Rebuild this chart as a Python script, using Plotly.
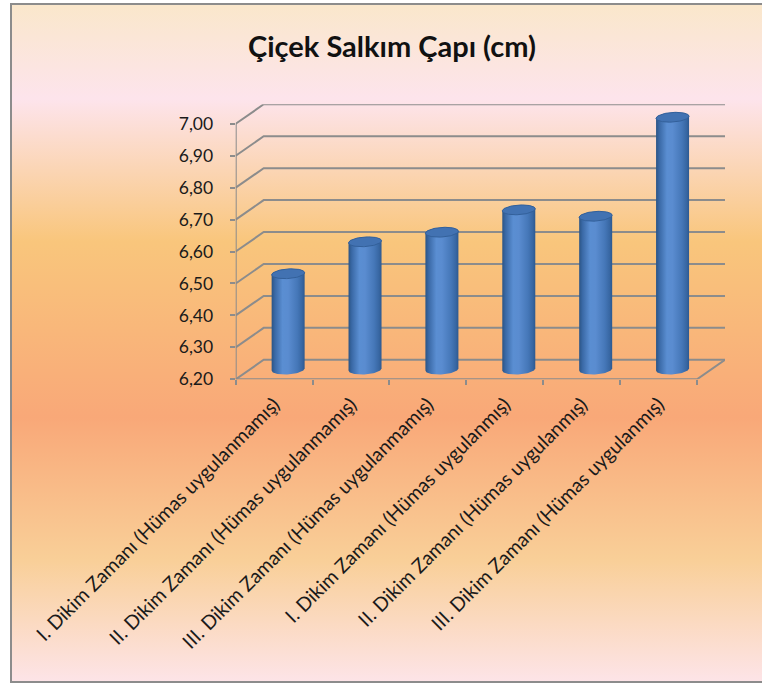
import base64
import numpy as np
import plotly.graph_objects as go

# ---------------- data ----------------
categories = [
    "I. Dikim Zamanı (Hümas uygulanmamış)",
    "II. Dikim Zamanı (Hümas uygulanmamış)",
    "III. Dikim Zamanı (Hümas uygulanmamış)",
    "I. Dikim Zamanı (Hümas uygulanmış)",
    "II. Dikim Zamanı (Hümas uygulanmış)",
    "III. Dikim Zamanı (Hümas uygulanmış)",
]
values = [6.50, 6.60, 6.63, 6.70, 6.68, 6.99]
y_ticks = [6.20, 6.30, 6.40, 6.50, 6.60, 6.70, 6.80, 6.90, 7.00]
title_text = "Çiçek Salkım Çapı (cm)"

# ---------------- layout geometry ----------------
W, H = 762, 684
PX_L, PX_R = 235.7, 725.0      # plot area (pixels)
PY_T, PY_B = 104.3, 379.3
DX_PX, DY_PX = 28.0, 19.5      # 3D depth offset (pixels)
N = len(categories)
YMIN, YMAX = y_ticks[0], y_ticks[-1]

unit_x = (PX_R - DX_PX - PX_L) / N            # px per category
unit_y = (PY_B - DY_PX - PY_T) / (YMAX - YMIN)  # px per value unit
DX = DX_PX / unit_x
DY = DY_PX / unit_y

GRID = "#8C8C8C"
FONT = "Lato"

fig = go.Figure()

# ---------------- 3D walls / grid ----------------
gx, gy = [], []
for v in y_ticks:
    gx += [-0.5, -0.5 + DX, N - 0.5 + DX, None]
    gy += [v, v + DY, v + DY, None]
gx += [-0.5, N - 0.5, N - 0.5 + DX, None]
gy += [YMIN, YMIN, YMIN + DY, None]
gx += [-0.5, -0.5, None]
gy += [YMIN, YMAX, None]
fig.add_trace(go.Scatter(x=gx, y=gy, mode="lines",
                         line=dict(color=GRID, width=2),
                         hoverinfo="skip", showlegend=False))

# ---------------- cylinder bars ----------------
a = 16.5 / unit_x
b = 4.8 / unit_y
shear = 0.015
bar_scale = [[0.0, "#2B5485"], [0.1, "#3A69A6"], [0.33, "#5A8ED2"],
             [0.5, "#5A8CD0"], [0.78, "#4577B8"], [0.92, "#3867A3"],
             [1.0, "#2D5990"]]
for i, (cat, v) in enumerate(zip(categories, values)):
    cx = i + DX / 2
    base = YMIN + DY / 2
    top = v + DY / 2
    t1 = np.linspace(np.pi, 2 * np.pi, 40)
    t2 = np.linspace(0, np.pi, 40)
    xs = np.concatenate([cx + a * np.cos(t1), cx + a * np.cos(t2)])
    ys = np.concatenate([base + b * np.sin(t1), top + b * np.sin(t2)])
    ys = ys + shear * (xs - cx)
    fig.add_trace(go.Scatter(
        x=np.append(xs, xs[0]), y=np.append(ys, ys[0]),
        mode="lines", fill="toself",
        line=dict(width=0, color="rgba(0,0,0,0)"),
        fillgradient=dict(type="horizontal", colorscale=bar_scale),
        name=cat, hovertext=f"{cat}: {v:.2f}".replace(".", ","),
        hoverinfo="text", showlegend=False))
    t = np.linspace(0, 2 * np.pi, 80)
    cxs = cx + a * np.cos(t)
    cys = top + b * np.sin(t) + shear * (a * np.cos(t))
    fig.add_trace(go.Scatter(
        x=cxs, y=cys, mode="lines", fill="toself",
        line=dict(width=1, color="#33609A"),
        fillcolor="#4272B2", hoverinfo="skip", showlegend=False))

# ---------------- background gradient ----------------
stops = [(0.00, "#FAE7CB"), (0.14, "#FDE4EC"), (0.35, "#F9C67C"),
         (0.61, "#F9A878"), (0.82, "#F9CF98"), (1.00, "#FDE4E8")]
stop_xml = "".join(f'<stop offset="{o}" stop-color="{c}"/>' for o, c in stops)
svg = ('<svg xmlns="http://www.w3.org/2000/svg" width="100" height="100" '
       'viewBox="0 0 100 100" preserveAspectRatio="none"><defs>'
       '<linearGradient id="g" x1="0" y1="0" x2="0" y2="1">'
       f'{stop_xml}</linearGradient></defs>'
       '<rect x="0" y="0" width="100" height="100" fill="url(#g)"/></svg>')
src = "data:image/svg+xml;base64," + base64.b64encode(svg.encode()).decode()

BOX_L, BOX_T, BOX_B = 11, 4, 682
fig.add_layout_image(dict(
    source=src, xref="paper", yref="paper",
    x=BOX_L / W, y=1 - BOX_T / H,
    sizex=(W - BOX_L) / W, sizey=(BOX_B - BOX_T) / H,
    xanchor="left", yanchor="top", sizing="stretch", layer="below"))

fig.add_shape(type="rect", xref="paper", yref="paper",
              x0=BOX_L / W, x1=1.02, y0=1 - BOX_B / H, y1=1 - BOX_T / H,
              line=dict(color="#8C8C8C", width=2), fillcolor="rgba(0,0,0,0)",
              layer="above")

# ---------------- axes / layout ----------------
fig.update_layout(
    width=W, height=H, autosize=False,
    margin=dict(l=0, r=0, t=0, b=0, pad=0, autoexpand=False),
    paper_bgcolor="white", plot_bgcolor="rgba(0,0,0,0)",
    separators=",.",
    showlegend=False,
    font=dict(family=FONT, color="#1A1A1A"),
    title=dict(text=f"<b>{title_text}</b>", x=392 / W, y=1 - 47 / H,
               xref="paper", yref="paper", automargin=False,
               xanchor="center", yanchor="middle",
               font=dict(family=FONT, size=29, color="#111111")),
    xaxis=dict(domain=[PX_L / W, PX_R / W], range=[-0.5, N - 0.5 + DX],
               automargin=False,
               tickmode="array", tickvals=list(range(N)), ticktext=categories,
               tickangle=-45, ticks="", showgrid=False, zeroline=False,
               showline=False, tickfont=dict(family=FONT, size=19.5, color="#1A1A1A"),
               ticklabelstandoff=9,
               minor=dict(tickmode="array",
                          tickvals=[i - 0.5 for i in range(N + 1)],
                          ticks="outside", ticklen=5, tickwidth=2,
                          tickcolor=GRID, showgrid=False)),
    yaxis=dict(domain=[1 - PY_B / H, 1 - PY_T / H], range=[YMIN, YMAX + DY],
               automargin=False,
               tickmode="array", tickvals=y_ticks, tickformat=".2f",
               ticks="outside", ticklen=5, tickwidth=2, tickcolor=GRID,
               showgrid=False, zeroline=False, showline=False,
               ticklabelstandoff=13,
               tickfont=dict(family=FONT, size=17.5, color="#1A1A1A")),
)

fig.write_html("out.html")
